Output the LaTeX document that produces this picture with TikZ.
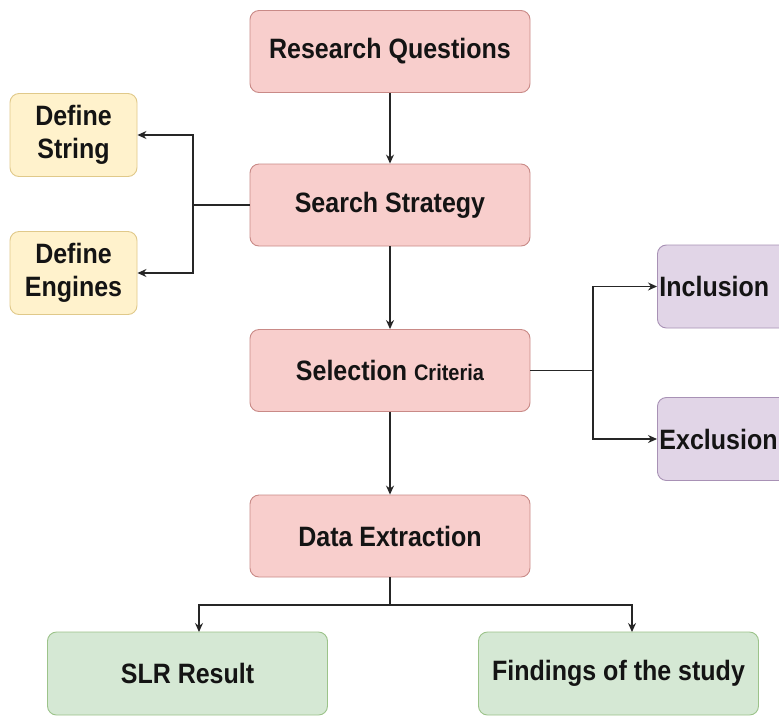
\documentclass[tikz,border=0pt]{standalone}
\usepackage{graphicx}
\usepackage{fontspec}
\setmainfont{Liberation Sans}
\usetikzlibrary{arrows.meta,positioning,calc}
\definecolor{pinkfill}{HTML}{F8CECC}
\definecolor{pinkdraw}{HTML}{C98A87}
\definecolor{yelfill}{HTML}{FFF2CC}
\definecolor{yeldraw}{HTML}{E0C98A}
\definecolor{purfill}{HTML}{E1D5E7}
\definecolor{purdraw}{HTML}{A891B5}
\definecolor{grnfill}{HTML}{D5E8D4}
\definecolor{grndraw}{HTML}{9CC38A}
\definecolor{txt}{HTML}{141414}
\newcommand\vsc[1]{\scalebox{1}[1.12]{#1}}
\tikzset{
  box/.style={rectangle, rounded corners=9pt, line width=0.9pt, inner sep=0pt,
    align=center, text=txt, font=\fontsize{25}{33}\selectfont\bfseries},
  pinkbox/.style={box, fill=pinkfill, draw=pinkdraw, minimum width=280pt, minimum height=82pt},
  yelbox/.style={box, fill=yelfill, draw=yeldraw, minimum width=127pt, minimum height=83pt},
  purbox/.style={box, fill=purfill, draw=purdraw, minimum width=160pt, minimum height=83pt},
  grnbox/.style={box, fill=grnfill, draw=grndraw, minimum width=280pt, minimum height=83pt},
  conn/.style={draw=black!85, line width=1.2pt, -{Stealth[length=9pt,width=8pt]}},
  plain/.style={draw=black!85, line width=1.2pt}
}
\begin{document}
\begin{tikzpicture}[x=1pt,y=-1pt]
\useasboundingbox (0,0) rectangle (779,716);
\clip (0,0) rectangle (779,716);
\fill[white] (0,0) rectangle (779,716);

\node[pinkbox] (rq) at (390,51.5) {\vsc{Research Questions}};
\node[pinkbox] (ss) at (390,205) {\vsc{Search Strategy}};
\node[pinkbox] (sc) at (390,370.5) {\vsc{Selection {\fontsize{20}{22}\selectfont Criteria}}};
\node[pinkbox] (de) at (390,536) {\vsc{Data Extraction}};

\node[yelbox] (ds) at (73.5,135) {\vsc{Define}\\\vsc{String}};
\node[yelbox] (dn) at (73.5,273) {\vsc{Define}\\\vsc{Engines}};

\node[purbox, anchor=west] (inc) at (657,286.5) {};
\node[box, anchor=west, inner sep=2pt] (inct) at (inc.west) {\vsc{Inclusion}};
\node[purbox, anchor=west] (exc) at (657,439) {};
\node[box, anchor=west, inner sep=2pt] (exct) at (exc.west) {\vsc{Exclusion}};

\node[grnbox] (slr) at (187.5,673.5) {\vsc{SLR Result}};
\node[grnbox] (fnd) at (618.5,673.5) {\vsc{Findings of the study}};

\coordinate (jl) at (193,205);
\coordinate (jr) at (593,370.5);
\coordinate (jb) at (390,605);
\coordinate (slrin) at (199,632);
\coordinate (fndin) at (632,632);

\draw[conn] (rq) -- (ss);
\draw[conn] (ss) -- (sc);
\draw[conn] (sc) -- (de);

\draw[plain] (ss.west) -- (jl);
\draw[conn] (jl) |- (ds.east);
\draw[conn] (jl) |- (dn.east);

\draw[plain] (sc.east) -- (jr);
\draw[conn] (jr) |- (inc.west);
\draw[conn] (jr) |- (exc.west);

\draw[plain] (de.south) -- (jb);
\draw[conn] (jb) -| (slrin);
\draw[conn] (jb) -| (fndin);
\end{tikzpicture}
\end{document}
